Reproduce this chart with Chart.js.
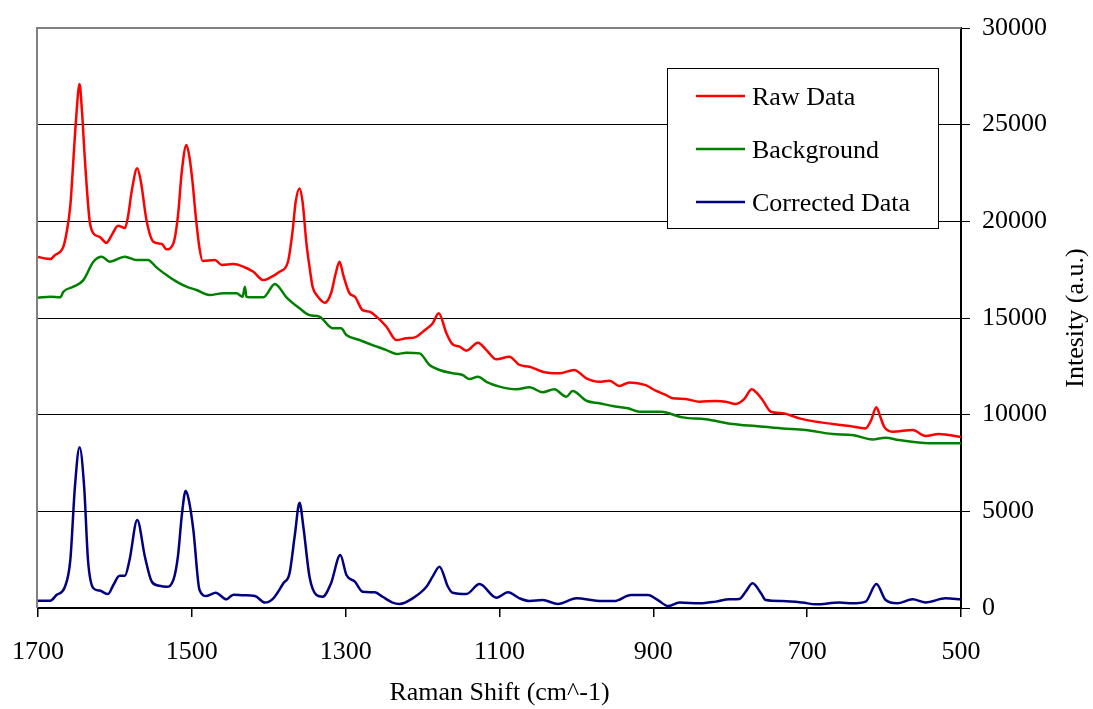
<!DOCTYPE html>
<html>
<head>
<meta charset="utf-8">
<script src="https://cdn.jsdelivr.net/npm/chart.js@4.4.0/dist/chart.umd.min.js"></script>
<style>
  html, body { margin: 0; padding: 0; background: #fff; }
  #wrap { width: 1093px; height: 709px; }
</style>
</head>
<body>
<div id="wrap"><canvas id="ramanChart" width="1093" height="709"></canvas></div>
<script>
// --- DATOS ---
const xTicks = [1700, 1500, 1300, 1100, 900, 700, 500];
const yTicks = [0, 5000, 10000, 15000, 20000, 25000, 30000];

const seriesNames = ['Raw Data', 'Background', 'Corrected Data'];
const seriesColors = ['#ff0000', '#008000', '#000080'];

// Raw Data
const rawShift = [1700,1684,1678,1667,1663,1658,1654,1651,1646,1643,1639,1633,1628,1620,1611,1604,1596,1587,1583,1578,
  1571,1566,1559,1550,1539,1533,1524,1518,1513,1507,1503,1499,1495,1490,1486,1470,1461,1446,1433,1420,
  1407,1399,1386,1375,1369,1365,1360,1356,1351,1347,1343,1336,1327,1319,1313,1308,1303,1295,1288,1278,
  1269,1260,1247,1234,1221,1210,1197,1187,1179,1169,1161,1152,1143,1128,1117,1104,1087,1074,1061,1044,
  1022,1003,987,970,957,944,931,910,897,884,875,858,840,819,806,793,782,772,765,758,
  747,732,710,689,667,645,624,617,610,605,600,589,563,546,529,500];
const rawInt = [18150,18050,18250,18690,19380,20800,23170,25000,27100,25800,23170,20070,19380,19200,18890,19300,19770,19650,20240,21600,
  22740,22000,20070,18950,18830,18550,18860,20300,22600,23950,23300,22000,20300,18600,17950,18000,17740,17790,17650,17390,
  16960,17070,17390,17910,19500,21000,21700,21000,18860,17650,16620,16100,15790,16280,17300,17910,17200,16280,16100,15410,
  15330,15070,14550,13860,13950,14000,14380,14720,15240,14210,13640,13520,13310,13720,13340,12860,13000,12570,12480,12220,
  12140,12310,11880,11700,11760,11480,11670,11530,11240,11020,10850,10810,10670,10710,10670,10550,10800,11310,11100,10760,
  10150,10070,9810,9640,9520,9410,9290,9700,10380,9900,9380,9120,9210,8900,9000,8850];

// Background
const bgShift = [1700,1684,1671,1667,1654,1641,1628,1617,1607,1587,1572,1557,1546,1533,1520,1507,1494,1477,1459,1442,
  1434,1431,1429,1425,1407,1392,1377,1360,1347,1334,1317,1306,1299,1282,1265,1247,1234,1221,1204,1191,
  1178,1161,1148,1139,1128,1117,1100,1078,1061,1044,1029,1013,1005,987,970,953,933,918,890,862,
  832,797,767,732,702,667,641,615,598,581,542,500];
const bgInt = [16050,16100,16070,16360,16620,16960,17910,18170,17910,18170,18000,18000,17620,17220,16880,16620,16450,16190,16280,16280,
  16100,16620,16100,16070,16070,16760,16070,15500,15150,15070,14470,14470,14120,13860,13600,13340,13140,13200,13170,12570,
  12310,12140,12050,11840,11960,11700,11450,11310,11420,11160,11310,10930,11220,10720,10590,10450,10330,10150,10150,9860,
  9760,9520,9410,9290,9210,9000,8950,8720,8810,8690,8520,8520];

// Corrected Data
const corrShift = [1700,1684,1676,1665,1658,1652,1646,1640,1635,1628,1620,1609,1602,1594,1587,1581,1571,1561,1552,1542,
  1533,1524,1518,1513,1508,1504,1498,1490,1481,1469,1455,1446,1433,1418,1405,1394,1381,1373,1366,1360,
  1355,1347,1338,1330,1319,1307,1299,1288,1278,1262,1252,1239,1230,1213,1195,1187,1178,1167,1161,1143,
  1126,1104,1089,1074,1061,1044,1024,1000,974,951,929,907,894,881,866,840,819,801,788,780,
  771,760,754,732,706,689,658,641,624,610,598,583,563,546,520,500];
const corrInt = [380,380,670,1100,2480,6270,8310,6270,2480,1020,900,720,1190,1670,1670,2480,4550,2650,1360,1150,
  1100,1450,2700,4800,6070,5600,4030,930,620,790,450,690,660,620,280,500,1280,1790,3800,5450,
  4200,1620,670,580,1280,2740,1710,1360,840,810,580,280,210,500,1100,1620,2140,1100,790,720,
  1240,530,810,500,360,410,210,500,380,360,670,670,410,100,280,240,330,450,470,840,
  1280,760,410,360,280,190,280,240,330,1240,410,240,450,290,500,450];

const yTitle = 'Intesity (a.u.)';
const xTitle = 'Raman Shift (cm^-1)';

const FONT = "'Liberation Serif', 'Times New Roman', serif";

function toPoints(xs, ys) {
  return xs.map((x, i) => ({ x: x, y: ys[i] }));
}

// --- PLUGINS ---
// borde gris del area de trazado (izquierda y arriba)
const plotBorder = {
  id: 'plotBorder',
  beforeDatasetsDraw(chart) {
    const { ctx, chartArea: a } = chart;
    ctx.save();
    ctx.strokeStyle = '#808080';
    ctx.lineWidth = 2;
    ctx.beginPath();
    ctx.moveTo(a.left - 1, a.bottom);
    ctx.lineTo(a.left - 1, a.top);
    ctx.lineTo(a.right, a.top);
    ctx.stroke();
    ctx.restore();
  }
};

// titulo del eje Y (leido de abajo hacia arriba)
const rightTitle = {
  id: 'rightTitle',
  afterDraw(chart) {
    const { ctx, chartArea: a } = chart;
    ctx.save();
    ctx.translate(1076, (a.top + a.bottom) / 2);
    ctx.rotate(-Math.PI / 2);
    ctx.font = '26px ' + FONT;
    ctx.fillStyle = '#000';
    ctx.textAlign = 'center';
    ctx.textBaseline = 'middle';
    ctx.fillText(yTitle, 0, 0);
    ctx.restore();
  }
};

// leyenda dentro del grafico, con recuadro
const boxLegend = {
  id: 'boxLegend',
  afterDraw(chart) {
    const { ctx } = chart;
    const box = { x: 667, y: 68, w: 271, h: 160 };
    ctx.save();
    ctx.fillStyle = '#fff';
    ctx.fillRect(box.x, box.y, box.w, box.h);
    ctx.strokeStyle = '#000';
    ctx.lineWidth = 1;
    ctx.strokeRect(box.x + 0.5, box.y + 0.5, box.w, box.h);
    ctx.font = '26px ' + FONT;
    ctx.textBaseline = 'middle';
    ctx.textAlign = 'left';
    chart.data.datasets.forEach((ds, i) => {
      const y = 96 + i * 53;
      ctx.strokeStyle = ds.borderColor;
      ctx.lineWidth = 2.5;
      ctx.beginPath();
      ctx.moveTo(696, y);
      ctx.lineTo(745, y);
      ctx.stroke();
      ctx.fillStyle = '#000';
      ctx.fillText(ds.label, 752, y + 2);
    });
    ctx.restore();
  }
};

// --- GRAFICO ---
const datasets = [
  toPoints(rawShift, rawInt),
  toPoints(bgShift, bgInt),
  toPoints(corrShift, corrInt)
].map((pts, i) => ({
  label: seriesNames[i],
  data: pts,
  borderColor: seriesColors[i],
  backgroundColor: seriesColors[i],
  borderWidth: 2.5,
  pointRadius: 0,
  fill: false,
  cubicInterpolationMode: 'monotone'
}));

const ctx = document.getElementById('ramanChart').getContext('2d');
new Chart(ctx, {
  type: 'line',
  data: { datasets: datasets },
  plugins: [plotBorder, rightTitle, boxLegend],
  options: {
    responsive: false,
    animation: false,
    devicePixelRatio: 1,
    layout: { padding: { left: 38, top: 28, right: 0, bottom: 0 } },
    plugins: {
      legend: { display: false },
      tooltip: { enabled: false }
    },
    scales: {
      x: {
        type: 'linear',
        reverse: true,
        min: 500,
        max: 1700,
        afterBuildTicks: (scale) => { scale.ticks = xTicks.map(v => ({ value: v })); },
        afterFit: (scale) => {
          scale.height = 101;
          scale.paddingLeft = 0;
          scale.paddingRight = 0;
        },
        border: { display: true, color: '#000', width: 2 },
        grid: { drawOnChartArea: false, drawTicks: true, tickLength: 9, color: '#000', lineWidth: 1.5 },
        ticks: {
          color: '#000',
          font: { family: FONT, size: 26 },
          padding: 20,
          maxRotation: 0,
          autoSkip: false,
          callback: (v) => String(v)
        },
        title: {
          display: true,
          text: xTitle,
          color: '#000',
          font: { family: FONT, size: 26 },
          padding: { top: 0, bottom: 0 }
        }
      },
      y: {
        position: 'right',
        min: 0,
        max: 30000,
        afterBuildTicks: (scale) => { scale.ticks = yTicks.map(v => ({ value: v })); },
        afterFit: (scale) => {
          scale.width = 132;
          scale.paddingTop = 0;
          scale.paddingBottom = 0;
        },
        border: { display: true, color: '#000', width: 2 },
        grid: { drawOnChartArea: true, drawTicks: true, tickLength: 9, color: '#000', lineWidth: 1 },
        ticks: {
          color: '#000',
          font: { family: FONT, size: 26 },
          padding: 12,
          autoSkip: false,
          callback: (v) => String(v)
        }
      }
    }
  }
});
</script>
</body>
</html>
